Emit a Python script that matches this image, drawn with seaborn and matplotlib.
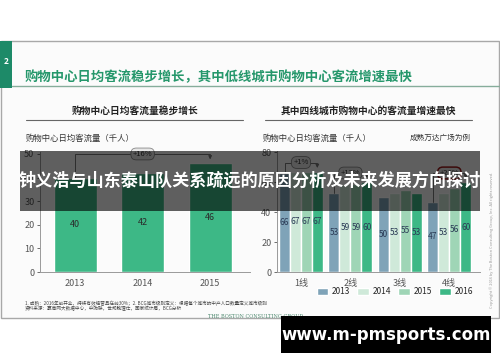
import numpy as np
import pandas as pd
import matplotlib
matplotlib.use('Agg')
import matplotlib.pyplot as plt
from matplotlib.patches import Rectangle
import seaborn as sns

# data
years_left = ['2013', '2014', '2015']
traffic_left = [40, 42, 46]

city_tiers = ['1线', '2线', '3线', '4线']
years_right = ['2013', '2014', '2015', '2016']
traffic_2013 = [66, 53, 50, 47]
traffic_2014 = [67, 59, 53, 53]
traffic_2015 = [67, 59, 55, 56]
traffic_2016 = [67, 60, 53, 60]

growth_left = '+16%'
growth_right = {0: '+1%', 1: '+12%', 3: '+26%'}

W, H = 500, 362

sns.set_theme(style='white')
plt.rcParams['font.family'] = ['Noto Sans CJK SC', 'DejaVu Sans']


def px(x, y):
    # pixel position (from top-left) -> figure fraction
    return x / W, 1 - y / H


def box(x0, y0, x1, y1):
    return [x0 / W, 1 - y1 / H, (x1 - x0) / W, (y1 - y0) / H]


fig = plt.figure(figsize=(W / 100, H / 100), dpi=100)
fig.patch.set_facecolor('white')

# slide background + frame
fig.patches.append(Rectangle(px(0.5, 318), 498.5 / W, 277 / H, transform=fig.transFigure,
                             facecolor='#fbfbfb', edgecolor='#a8a8a8', lw=1, zorder=-2))
fig.patches.append(Rectangle(px(0, 88), 12 / W, 47 / H, transform=fig.transFigure,
                             facecolor='#1d8a68', edgecolor='none', zorder=1))
fig.text(*px(6, 62), '2', color='white', fontsize=6, fontweight='bold', ha='center', va='center')
fig.text(*px(25, 77), '购物中心日均客流稳步增长，其中低线城市购物中心客流增速最快',
         color='#25976b', fontsize=9.6, fontweight='bold', va='center')
fig.lines.append(plt.Line2D([12 / W, 1], [1 - 86 / H] * 2, transform=fig.transFigure,
                            color='#86ad9b', lw=1))

# panel headings
fig.text(*px(135, 111), '购物中心日均客流量稳步增长', fontsize=7, fontweight='bold',
         ha='center', va='center', color='#222')
fig.text(*px(368, 111), '其中四线城市购物中心的客流量增速最快', fontsize=7, fontweight='bold',
         ha='center', va='center', color='#222')
for x0, x1 in [(26, 243), (265, 472)]:
    fig.lines.append(plt.Line2D([x0 / W, x1 / W], [1 - 120 / H] * 2,
                                transform=fig.transFigure, color='#666', lw=0.8))
fig.text(*px(26, 138), '购物中心日均客流量（千人）', fontsize=6, va='center', color='#333')
fig.text(*px(263, 138), '购物中心日均客流量（千人）', fontsize=6, va='center', color='#333')
fig.text(*px(410, 138), '成熟万达广场为例', fontsize=5.5, style='italic', va='center', color='#333')

bar_green = '#3db886'
palette = ['#7fa3b8', '#cfe9d9', '#9fd5b6', '#3db886']
bracket_kw = dict(color='#777', lw=0.7)
oval_kw = dict(boxstyle='round,pad=0.25,rounding_size=0.7', fc='#e6e6e6', ec='#888', lw=0.6)

# left chart
ax1 = fig.add_axes(box(40, 151.6, 250, 272))
sns.barplot(x=years_left, y=traffic_left, color=bar_green, width=0.64, saturation=1, ax=ax1)
ax1.bar_label(ax1.containers[0], label_type='center', fontsize=6.5, color='#2b2b2b')
ax1.set_xlim(-0.52, 2.59)
ax1.set_ylim(0, 51)
ax1.set_yticks([0, 10, 20, 30, 40, 50])
ax1.plot([0, 0, 2], [traffic_left[0], 50, 50], **bracket_kw)
ax1.annotate('', xy=(2, traffic_left[2] + 0.5), xytext=(2, 50),
             arrowprops=dict(arrowstyle='-|>', color='#777', lw=0.7, mutation_scale=5))
ax1.text(1, 50, growth_left, ha='center', va='center', fontsize=5.5, color='#333', bbox=oval_kw)

# right chart
df = pd.DataFrame({
    'tier': city_tiers * 4,
    'year': np.repeat(years_right, 4),
    'traffic': traffic_2013 + traffic_2014 + traffic_2015 + traffic_2016,
})
ax2 = fig.add_axes(box(277, 150.5, 480, 272))
sns.barplot(data=df, x='tier', y='traffic', hue='year', palette=palette, width=0.89,
            saturation=1, ax=ax2)
for c in ax2.containers:
    ax2.bar_label(c, label_type='center', fontsize=6, color='#2a3a55')
ax2.set_xlim(-0.485, 3.62)
ax2.set_ylim(0, 81)
ax2.set_yticks([0, 20, 40, 60, 80])
first = traffic_2013
last = traffic_2016
for i, label in growth_right.items():
    yb = 73 if i == 0 else 66
    xl, xr = i - 0.33, i + 0.33
    ax2.plot([xl, xl, xr], [first[i], yb, yb], **bracket_kw)
    ax2.annotate('', xy=(xr, last[i] + 0.5), xytext=(xr, yb),
                 arrowprops=dict(arrowstyle='-|>', color='#777', lw=0.7, mutation_scale=5))
    kw = dict(oval_kw)
    if i == 3:
        kw['ec'] = '#9b1c1c'
        kw['lw'] = 1.1
    ax2.text(i, yb, label, ha='center', va='center', fontsize=5.5, color='#333', bbox=kw)

for ax in (ax1, ax2):
    ax.set_facecolor('none')
    ax.set_xlabel('')
    ax.set_ylabel('')
    for s in ('top', 'right'):
        ax.spines[s].set_visible(False)
    for s in ('left', 'bottom'):
        ax.spines[s].set_color('#999')
        ax.spines[s].set_linewidth(0.7)
    ax.tick_params(axis='both', labelsize=6.5, colors='#555', length=2, width=0.6, pad=2)
    ax.tick_params(axis='x', length=0, pad=5)
    ax.tick_params(axis='y', left=True)

ax2.legend(loc='upper center', bbox_to_anchor=(0.58, -0.1), ncol=4, frameon=False,
           fontsize=6, handlelength=1.4, handleheight=0.9, handletextpad=0.4,
           columnspacing=0.9, borderaxespad=0)

# footnotes
fig.text(*px(25, 303), '1. 成熟：2016年前开业，持续有效经营且在前30%；2. BCG城市级别定义：根据每个城市的中产人口数量定义城市级别',
         fontsize=3.3, color='#444', va='center')
fig.text(*px(25, 308.5), '资料来源：赢商网大数据中心，中购联，世邦魏理仕，国家统计局，BCG分析',
         fontsize=3.3, color='#444', va='center')
fig.text(*px(208, 316), 'THE BOSTON CONSULTING GROUP', fontsize=3.6, family='DejaVu Serif',
         color='#4f8a70', va='center')
fig.text(*px(492, 240), 'Copyright © 2016 by The Boston Consulting Group, Inc. All rights reserved.',
         fontsize=2.8, color='#999', rotation=90, ha='center', va='center')

# overlay banner
fig.patches.append(Rectangle(px(20, 211), 460 / W, 60 / H, transform=fig.transFigure,
                             facecolor='black', alpha=0.62, edgecolor='none', zorder=10))
fig.text(*px(250, 181), '钟义浩与山东泰山队关系疏远的原因分析及未来发展方向探讨',
         color='white', fontsize=12.3, fontweight='bold', ha='center', va='center', zorder=11)

# watermark box
fig.patches.append(Rectangle(px(281, 353), 210 / W, 37 / H, transform=fig.transFigure,
                             facecolor='black', edgecolor='none', zorder=10))
fig.text(*px(386, 335), 'www.m-pmsports.com', color='white', fontsize=12, fontweight='bold',
         family='DejaVu Sans', ha='center', va='center', zorder=11)

fig.savefig('out.png', dpi=100)
